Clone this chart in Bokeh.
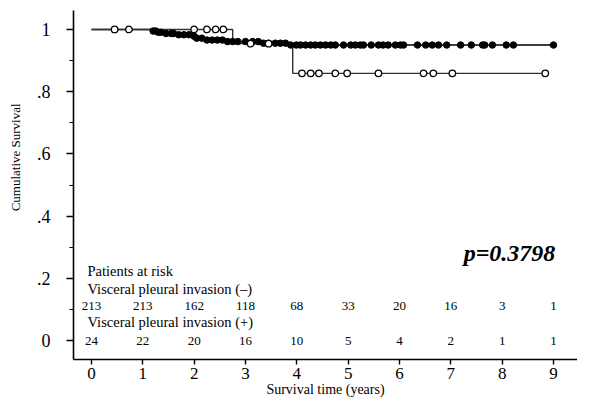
import numpy as np
from bokeh.plotting import figure
from bokeh.models import Range1d, FixedTicker, CustomJSTickFormatter, Label
from bokeh.core.properties import value
from bokeh.embed import file_html
from bokeh.resources import INLINE

# ---- data ----
# Visceral pleural invasion (-) : Kaplan-Meier steps
neg_t = [0, 1.15, 1.3, 1.45, 1.65, 1.95, 2.05, 2.2, 2.6, 3.3, 3.85, 9.0]
neg_s = [1.0, 0.995, 0.991, 0.987, 0.983, 0.978, 0.972, 0.966, 0.961, 0.956, 0.950, 0.950]
neg_censor = [1.2, 1.25, 1.3, 1.35, 1.45, 1.55, 1.6, 1.7, 1.8, 1.9, 2.0, 2.05, 2.15,
              2.25, 2.35, 2.45, 2.55, 2.65, 2.75, 2.85, 3.0, 3.14, 3.25, 3.35, 3.45,
              3.58, 3.68, 3.78, 3.88, 3.99, 4.07, 4.17, 4.27, 4.36, 4.46, 4.56, 4.66,
              4.75, 4.91, 5.05, 5.14, 5.24, 5.3, 5.45, 5.59, 5.68, 5.78, 5.92, 6.02,
              6.08, 6.35, 6.51, 6.64, 6.76, 6.92, 7.19, 7.4, 7.62, 7.66, 7.81, 8.08,
              8.22, 9.0]
# Visceral pleural invasion (+)
pos_t = [0, 2.75, 3.92, 8.84]
pos_s = [1.0, 0.9545, 0.859, 0.859]
pos_censor = [0.45, 0.73, 2.0, 2.25, 2.42, 2.57, 3.1, 3.45, 4.10, 4.27, 4.43, 4.75,
              4.98, 5.59, 6.47, 6.66, 7.03, 8.84]

years = [0, 1, 2, 3, 4, 5, 6, 7, 8, 9]
at_risk_neg = ["213", "213", "162", "118", "68", "33", "20", "16", "3", "1"]
at_risk_pos = ["24", "22", "20", "16", "10", "5", "4", "2", "1", "1"]
y_ticks = [0, 0.2, 0.4, 0.6, 0.8, 1.0]
y_minor = [0.1, 0.3, 0.5, 0.7, 0.9]
p_text = "p=0.3798"
x_label = "Survival time (years)"
y_label = "Cumulative Survival"


def step_lookup(ts, ss, c):
    idx = np.searchsorted(np.array(ts), np.array(c), side="right") - 1
    return list(np.array(ss)[idx])


FONT = "Liberation Serif"

p = figure(width=577, height=401, output_backend="svg", toolbar_location=None,
           x_range=Range1d(-0.351, 9.468), y_range=Range1d(-0.061, 1.061),
           min_border_left=73, min_border_right=0, min_border_top=10,
           min_border_bottom=42)
p.outline_line_color = None
p.xgrid.visible = False
p.ygrid.visible = False
p.background_fill_color = "white"
p.border_fill_color = "white"

# curves
p.step(neg_t, neg_s, mode="after", line_color="black", line_width=1.6)
p.step(pos_t, pos_s, mode="after", line_color="#333333", line_width=1.4)

p.scatter(neg_censor, step_lookup(neg_t, neg_s, neg_censor), size=6.5,
          fill_color="black", line_color="black")
p.scatter(pos_censor, step_lookup(pos_t, pos_s, pos_censor), size=6.5,
          fill_color="white", line_color="black", line_width=1.3)

# axes
xa = p.xaxis[0]
xa.ticker = FixedTicker(ticks=years, minor_ticks=[])
xa.axis_label = x_label
ya = p.yaxis[0]
ya.ticker = FixedTicker(ticks=y_ticks, minor_ticks=y_minor)
ya.formatter = CustomJSTickFormatter(code="""
    if (tick == 0) return '0';
    if (tick == 1) return '1';
    return tick.toFixed(1).replace('0.', '.');
""")
# leading em-spaces shift the rotated title upward, as in the reference
ya.axis_label = "\u2003" * 4 + "\u00a0" + y_label

for ax in (xa, ya):
    ax.axis_line_width = 1.6
    ax.axis_line_color = "black"
    ax.major_tick_line_width = 1.4
    ax.minor_tick_line_width = 1.2
    ax.major_tick_in = 0
    ax.minor_tick_in = 0
    ax.major_label_text_font = FONT
    ax.major_label_text_font_size = "18px"
    ax.major_label_text_color = "black"
    ax.axis_label_text_font = FONT
    ax.axis_label_text_font_style = "normal"
    ax.axis_label_text_font_size = "14px"
    ax.axis_label_text_color = "black"

xa.major_tick_out = 5
xa.major_label_standoff = 3
xa.major_label_text_font_size = "17px"
xa.axis_label_standoff = 0
ya.major_tick_out = 7
ya.minor_tick_out = 4
ya.major_label_standoff = 16
ya.axis_label_standoff = 11
ya.axis_label_text_font_size = "13px"
ya.major_label_orientation = "horizontal"

# risk table
for txt, yy in (("Patients at risk", 0.223),
                ("Visceral pleural invasion (\u2013)", 0.167),
                ("Visceral pleural invasion (+)", 0.059)):
    p.text(x=[0.0], y=[yy], text=[txt], text_font=value(FONT), text_color="black",
           text_font_size="14.5px", text_baseline="middle", text_align="left",
           x_offset=-4)
p.text(x=years, y=0.1125, text=at_risk_neg, text_font=value(FONT), text_color="black",
       text_font_size="13px", text_baseline="middle", text_align="center")
p.text(x=years, y=-0.002, text=at_risk_pos, text_font=value(FONT), text_color="black",
       text_font_size="13px", text_baseline="middle", text_align="center")

p.add_layout(Label(x=7.25, y=0.28, text=p_text, text_font=FONT, text_color="black",
                   text_font_style="bold italic", text_font_size="24px",
                   text_baseline="middle", text_align="left"))

open("out.html", "w").write(file_html(p, INLINE))
